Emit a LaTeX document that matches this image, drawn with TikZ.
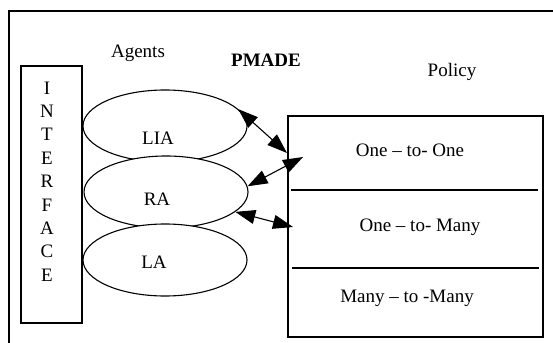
\documentclass[tikz,border=0pt]{standalone}
\usepackage{fontspec}
\setmainfont{Liberation Serif}
\usetikzlibrary{shapes.geometric,arrows.meta}
\tikzset{
  agent/.style={ellipse, draw, fill=white, line width=1.1pt, minimum width=164, minimum height=72, inner sep=0pt},
  box/.style={rectangle, draw, line width=1.1pt, inner sep=0pt},
  tip/.tip={Triangle[length=20pt,width=14pt]},
  link/.style={line width=1.1pt, tip-tip},
  lbl/.style={inner sep=0pt, font=\fontsize{19}{23}\selectfont}
}
\begin{document}
\begin{tikzpicture}[x=1pt,y=-1pt]
\useasboundingbox (0,0) rectangle (553,342);
\clip (0,0) rectangle (553,342);
% outer frame
\draw [line width=1.3pt] (9,350) -- (9,11) -- (560,11);
% titles
\node [lbl] (agents) at (138,53) {Agents};
\node [lbl] (pmade) at (266,60) {\bfseries PMADE};
\node [lbl] (policytitle) at (452,72) {Policy};
% interface
\node [box, minimum width=61, minimum height=257] (iface) at (51.5,194.5) {};
\node [lbl, align=center, font=\fontsize{19}{23.4}\selectfont] (ifacetext) at (47,181.5) {I\\N\\T\\E\\R\\F\\A\\C\\E};
% agents
\node [agent] (lia) at (165,126) {};
\node [agent] (ra) at (166,192) {};
\node [agent] (la) at (165,260) {};
\node [lbl] (liatext) at (158,138) {LIA};
\node [lbl] (ratext) at (157,199) {RA};
\node [lbl] (latext) at (154,262) {LA};
% policy
\node [box, minimum width=255, minimum height=221] (policy) at (415.5,226.5) {};
\draw [line width=1.1pt] (291,190) -- (538,190);
\draw [line width=1.1pt] (292,268) -- (539,268);
\node [lbl] (one) at (410,150) {One -- to- One};
\node [lbl] (many) at (420,227) {One -- to- Many};
\node [lbl] (manymany) at (407,298) {Many -- to -Many};
% links
\coordinate (p1) at (287,153);
\coordinate (p2) at (303,157);
\coordinate (p3) at (293,227);
\draw [link] (lia.13) -- (p1);
\draw [link] (ra.4) -- (p2);
\draw [link] (ra.-16) -- (p3);
\end{tikzpicture}
\end{document}
